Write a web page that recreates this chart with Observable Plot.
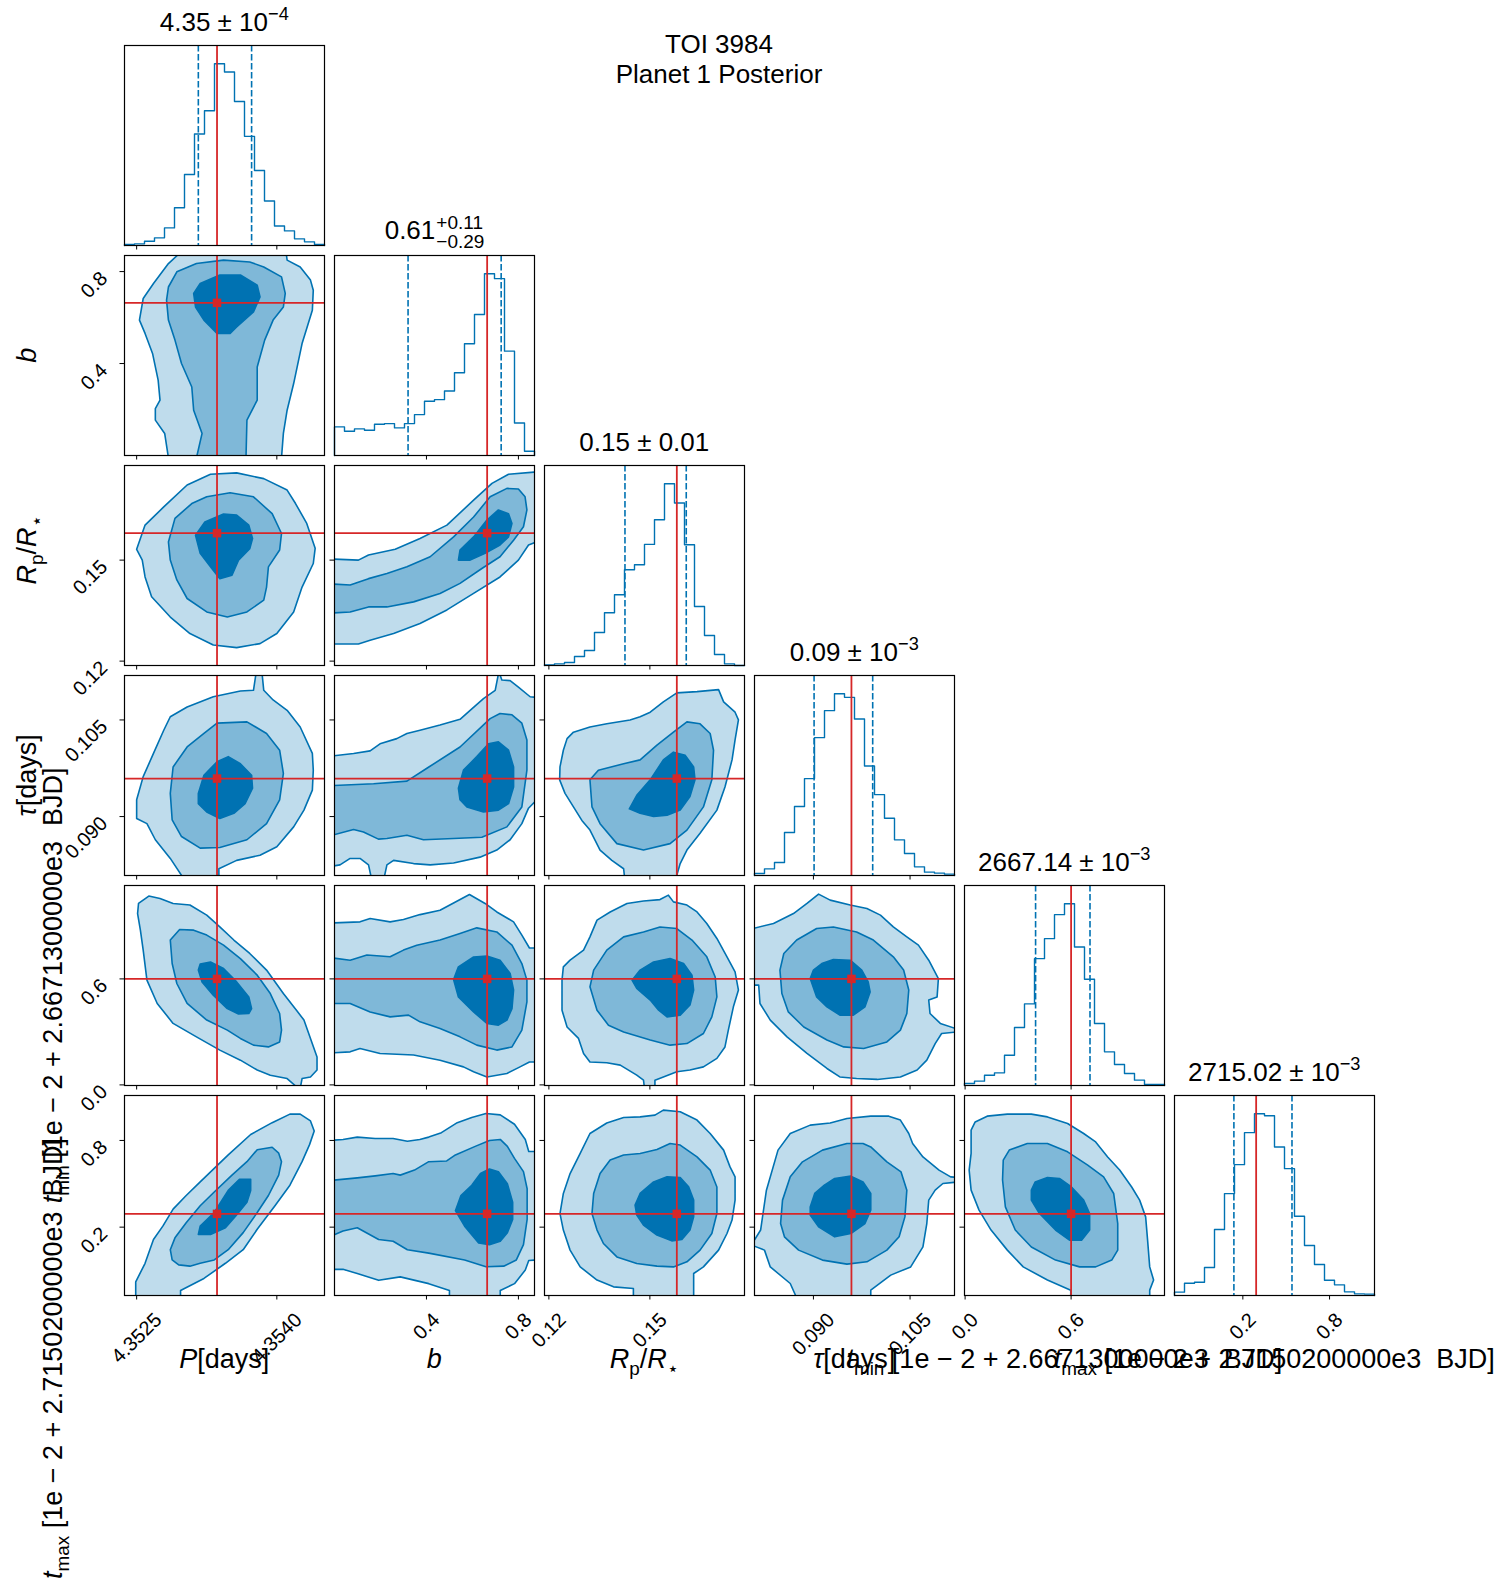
<!DOCTYPE html>
<html><head><meta charset="utf-8">
<script src="https://cdn.jsdelivr.net/npm/d3@7"></script>
<script src="https://cdn.jsdelivr.net/npm/@observablehq/plot@0.6"></script>
<style>
body{margin:0;background:#fff;}
#chart{position:relative;width:1505px;height:1590px;background:#fff;font-family:"Liberation Sans",Arial,sans-serif;}
#chart svg{position:absolute;}
text{white-space:pre;}
</style></head><body><div id="chart"></div>
<script>
// ---------------- data ----------------
const paramKeys = ["P","b","Rp","tau","tmin","tmax"];
const domains = [[4.35237,4.35451],[0,0.87],[0.1187,0.1781],[0.08085,0.1119],[-0.0034,1.1287],[-0.273,1.111]];
const tickValues = [[4.3525,4.3540],[0.4,0.8],[0.12,0.15],[0.090,0.105],[0.0,0.6],[0.2,0.8]];
const tickLabels = [["4.3525","4.3540"],["0.4","0.8"],["0.12","0.15"],["0.090","0.105"],["0.0","0.6"],["0.2","0.8"]];

const histP    = [3,5,13,23,53,114,214,336,406,548,523,434,329,226,134,59,44,20,11,3];
const histB    = [86,73,80,76,94,96,83,96,123,163,168,194,249,336,424,547,532,314,98,13];
const histRp   = [2,5,9,27,45,99,158,212,287,302,363,437,545,487,362,177,90,33,5,0];
const histTau  = [6,20,39,129,207,291,414,495,546,535,470,329,243,172,107,66,26,10,7,4];
const histTmin = [6,13,31,38,91,174,245,381,441,513,546,416,319,186,101,63,36,16,3,3];
const histTmax = [10,37,40,84,198,306,393,489,546,540,446,381,238,150,93,46,32,11,5,4];
const hists = [histP,histB,histRp,histTau,histTmin,histTmax];

const quantiles = [[4.35316,4.35373],[0.320,0.725],[0.1426,0.1608],[0.0901,0.0992],[0.399,0.707],[0.138,0.540]];
const truths = [4.35336,0.664,0.1580,0.0959,0.600,0.292];

const titleMain = ["4.35 ± 10","0.61","0.15 ± 0.01","0.09 ± 10","2667.14 ± 10","2715.02 ± 10"];
const titleSup  = ["−4","+0.11","","−3","−3","−3"];
const titleSub  = ["","−0.29","","","",""];
const figTitle = ["TOI 3984","Planet 1 Posterior"];
const axisLabels = [
  [{t:"P",it:1},{t:"[days]"}],
  [{t:"b",it:1}],
  [{t:"R",it:1},{t:"p",sub:1},{t:"/"},{t:"R",it:1},{t:"⋆",sub:1}],
  [{t:"τ",it:1},{t:"[days]"}],
  [{t:"t",it:1},{t:"min",sub:1},{t:" [1e − 2 + 2.6671300000e3  BJD]"}],
  [{t:"t",it:1},{t:"max",sub:1},{t:" [1e − 2 + 2.7150200000e3  BJD]"}]
];

// contour polygons (outer = lightest level, mid, inner = darkest)
const P_b_outer = {x:[4.35296,4.35284,4.35268,4.35257,4.35253,4.35259,4.35267,4.35273,4.35275,4.35270,4.35270,4.35280,4.35284,4.35405,4.35407,4.35411,4.35418,4.35427,4.35438,4.35439,4.35436,4.35425,4.35411,4.35410],
  y:[0.88,0.835,0.748,0.683,0.589,0.531,0.444,0.328,0.241,0.204,0.154,0.096,-0.01,-0.01,0.096,0.197,0.313,0.487,0.632,0.719,0.763,0.820,0.850,0.88]};
const P_b_mid = {x:[4.35284,4.35293,4.35314,4.35343,4.35371,4.35386,4.35405,4.35409,4.35407,4.35396,4.35387,4.35379,4.35379,4.35368,4.35367,4.35314,4.35320,4.35311,4.35309,4.35298,4.35291,4.35284,4.35282],
  y:[0.733,0.799,0.835,0.850,0.842,0.820,0.777,0.705,0.646,0.589,0.502,0.385,0.241,0.154,-0.01,-0.01,0.096,0.197,0.298,0.400,0.502,0.589,0.676]};
const P_b_inner = {x:[4.35311,4.35318,4.35339,4.35361,4.35379,4.35382,4.35375,4.35357,4.35350,4.35336,4.35322,4.35313],
  y:[0.705,0.748,0.785,0.785,0.741,0.690,0.625,0.559,0.531,0.531,0.589,0.646]};

const P_Rp_outer = {x:[4.35250,4.35259,4.35279,4.35304,4.35329,4.35357,4.35386,4.35411,4.35420,4.35432,4.35441,4.35439,4.35427,4.35418,4.35400,4.35382,4.35357,4.35332,4.35307,4.35286,4.35266,4.35259,4.35256],
  y:[0.1532,0.1604,0.1658,0.1723,0.1755,0.1759,0.1742,0.1708,0.1668,0.1609,0.1535,0.1490,0.1420,0.1346,0.1282,0.1252,0.1240,0.1248,0.1282,0.1331,0.1391,0.1450,0.1500]};
const P_Rp_mid = {x:[4.35284,4.35291,4.35309,4.35325,4.35350,4.35375,4.35395,4.35405,4.35403,4.35391,4.35389,4.35386,4.35368,4.35347,4.35325,4.35304,4.35293,4.35286],
  y:[0.1554,0.1624,0.1668,0.1688,0.1700,0.1688,0.1638,0.1579,0.1530,0.1480,0.1420,0.1381,0.1346,0.1331,0.1346,0.1386,0.1441,0.1500]};
const P_Rp_inner = {x:[4.35313,4.35323,4.35343,4.35357,4.35370,4.35374,4.35371,4.35359,4.35352,4.35339,4.35329,4.35318],
  y:[0.1574,0.1613,0.1637,0.1634,0.1604,0.1564,0.1534,0.1500,0.1455,0.1445,0.1480,0.1520]};

const b_Rp_outer = {x:[-0.01,0.104,0.148,0.264,0.372,0.489,0.605,0.685,0.757,0.88,0.88,0.844,0.800,0.720,0.605,0.489,0.372,0.257,0.155,0.104,-0.01],
  y:[0.1503,0.1500,0.1515,0.1532,0.1564,0.1604,0.1678,0.1728,0.1755,0.1762,0.1554,0.1545,0.1500,0.1450,0.1401,0.1352,0.1312,0.1282,0.1262,0.1251,0.1251]};
const b_Rp_mid = {x:[-0.01,0.068,0.148,0.228,0.315,0.416,0.518,0.605,0.677,0.750,0.800,0.829,0.837,0.822,0.779,0.720,0.641,0.546,0.459,0.344,0.228,0.148,0.068,-0.01],
  y:[0.1429,0.1426,0.1445,0.1460,0.1480,0.1510,0.1569,0.1628,0.1688,0.1713,0.1711,0.1688,0.1649,0.1599,0.1559,0.1510,0.1475,0.1431,0.1401,0.1376,0.1361,0.1361,0.1346,0.1343]};
const b_Rp_inner = {x:[0.539,0.546,0.605,0.663,0.713,0.757,0.772,0.757,0.720,0.655,0.590],
  y:[0.1500,0.1530,0.1569,0.1619,0.1649,0.1638,0.1609,0.1569,0.1545,0.1520,0.1500]};

const P_tau_outer = {x:[4.35302,4.35286,4.35270,4.35261,4.35250,4.35250,4.35257,4.35268,4.35279,4.35286,4.35304,4.35332,4.35361,4.35375,4.35378,4.35384,4.35386,4.35396,4.35411,4.35425,4.35438,4.35439,4.35438,4.35429,4.35418,4.35400,4.35382,4.35357,4.35338,4.35338],
  y:[0.0800,0.0835,0.0864,0.0889,0.0897,0.0926,0.0962,0.0998,0.1034,0.1055,0.1070,0.1086,0.1095,0.1096,0.1125,0.1125,0.1096,0.1081,0.1065,0.1039,0.0998,0.0972,0.0941,0.0910,0.0884,0.0853,0.0840,0.0832,0.0819,0.0800]};
const P_tau_mid = {x:[4.35286,4.35289,4.35304,4.35322,4.35336,4.35368,4.35389,4.35403,4.35407,4.35403,4.35389,4.35368,4.35339,4.35318,4.35298,4.35288],
  y:[0.0936,0.0977,0.1008,0.1029,0.1045,0.1047,0.1029,0.1003,0.0967,0.0926,0.0889,0.0864,0.0852,0.0851,0.0869,0.0895]};
const P_tau_inner = {x:[4.35316,4.35322,4.35336,4.35348,4.35361,4.35373,4.35374,4.35366,4.35354,4.35339,4.35325,4.35316],
  y:[0.0936,0.0964,0.0985,0.0993,0.0982,0.0964,0.0944,0.0920,0.0905,0.0897,0.0907,0.0920]};

const b_tau_outer = {x:[-0.01,0.083,0.155,0.198,0.271,0.315,0.372,0.459,0.546,0.590,0.648,0.699,0.715,0.728,0.764,0.800,0.851,0.88,0.88,0.844,0.815,0.764,0.706,0.633,0.518,0.416,0.344,0.257,0.228,0.213,0.163,0.148,0.111,0.068,0.024,-0.01],
  y:[0.0994,0.0998,0.1002,0.1013,0.1021,0.1029,0.1034,0.1042,0.1051,0.1065,0.1083,0.1096,0.1125,0.1112,0.1111,0.1101,0.1086,0.1085,0.0926,0.0913,0.0889,0.0864,0.0848,0.0837,0.0828,0.0825,0.0827,0.0832,0.0825,0.0800,0.0800,0.0825,0.0835,0.0835,0.0825,0.0823]};
const b_tau_mid = {x:[-0.01,0.170,0.315,0.402,0.546,0.677,0.720,0.772,0.815,0.837,0.837,0.815,0.750,0.641,0.518,0.387,0.315,0.228,0.191,0.126,0.083,-0.01],
  y:[0.0948,0.0951,0.0955,0.0975,0.1008,0.1052,0.1060,0.1058,0.1045,0.1019,0.0972,0.0915,0.0884,0.0868,0.0866,0.0864,0.0871,0.0866,0.0865,0.0876,0.0880,0.0871]};
const b_tau_inner = {x:[0.539,0.561,0.619,0.670,0.713,0.757,0.779,0.779,0.757,0.713,0.648,0.576,0.546],
  y:[0.0944,0.0972,0.0993,0.1013,0.1016,0.1003,0.0977,0.0946,0.0920,0.0910,0.0907,0.0915,0.0926]};

const Rp_tau_outer = {x:[0.1254,0.1273,0.1322,0.1372,0.1441,0.1471,0.1501,0.1540,0.1580,0.1640,0.1704,0.1719,0.1753,0.1763,0.1753,0.1744,0.1723,0.1699,0.1649,0.1610,0.1590,0.1575,0.1426,0.1422,0.1387,0.1352,0.1322,0.1298,0.1273,0.1248,0.1232,0.1233,0.1243],
  y:[0.1021,0.1031,0.1039,0.1044,0.1050,0.1055,0.1062,0.1078,0.1092,0.1094,0.1097,0.1078,0.1062,0.1050,0.1019,0.0988,0.0946,0.0910,0.0874,0.0848,0.0827,0.0800,0.0800,0.0819,0.0832,0.0848,0.0879,0.0894,0.0915,0.0936,0.0957,0.0977,0.1003]};
const Rp_tau_mid = {x:[0.1322,0.1347,0.1422,0.1471,0.1521,0.1570,0.1610,0.1649,0.1679,0.1689,0.1684,0.1659,0.1610,0.1560,0.1481,0.1402,0.1352,0.1328],
  y:[0.0957,0.0972,0.0982,0.0988,0.1011,0.1031,0.1047,0.1044,0.1029,0.1003,0.0957,0.0915,0.0879,0.0858,0.0848,0.0858,0.0889,0.0915]};
const Rp_tau_inner = {x:[0.1439,0.1461,0.1501,0.1540,0.1570,0.1605,0.1630,0.1634,0.1619,0.1590,0.1551,0.1511,0.1471],
  y:[0.0912,0.0933,0.0957,0.0988,0.1000,0.0995,0.0977,0.0957,0.0931,0.0910,0.0902,0.0900,0.0905]};

const P_tmin_outer = {x:[4.35252,4.35263,4.35275,4.35289,4.35307,4.35325,4.35339,4.35354,4.35371,4.35389,4.35407,4.35421,4.35429,4.35443,4.35443,4.35436,4.35427,4.35425,4.35423,4.35411,4.35393,4.35379,4.35361,4.35339,4.35314,4.35289,4.35272,4.35261,4.35257,4.35254,4.35251],
  y:[1.027,1.069,1.055,1.027,1.018,0.961,0.894,0.820,0.744,0.650,0.517,0.423,0.367,0.158,0.084,0.045,0.036,-0.02,-0.02,0.036,0.055,0.084,0.140,0.197,0.272,0.348,0.461,0.593,0.763,0.876,0.970]};
const P_tmin_mid = {x:[4.35286,4.35296,4.35311,4.35325,4.35343,4.35361,4.35379,4.35393,4.35403,4.35405,4.35403,4.35391,4.35375,4.35361,4.35347,4.35325,4.35304,4.35293,4.35288],
  y:[0.820,0.880,0.876,0.848,0.791,0.715,0.621,0.517,0.404,0.310,0.243,0.215,0.225,0.263,0.310,0.367,0.461,0.574,0.687]};
const P_tmin_inner = {x:[4.35316,4.35318,4.35329,4.35343,4.35357,4.35370,4.35373,4.35370,4.35359,4.35347,4.35332,4.35320],
  y:[0.650,0.684,0.696,0.659,0.583,0.498,0.432,0.404,0.401,0.432,0.508,0.583]};

const b_tmin_outer = {x:[-0.01,0.111,0.155,0.242,0.300,0.372,0.459,0.518,0.587,0.655,0.706,0.779,0.815,0.848,0.88,0.88,0.848,0.807,0.750,0.663,0.605,0.561,0.459,0.344,0.198,0.111,0.068,-0.01],
  y:[0.917,0.923,0.942,0.923,0.936,0.964,0.989,1.030,1.078,1.027,0.979,0.923,0.848,0.775,0.775,0.130,0.130,0.102,0.065,0.045,0.074,0.102,0.140,0.169,0.178,0.206,0.187,0.181]};
const b_tmin_mid = {x:[-0.01,0.068,0.141,0.242,0.300,0.358,0.459,0.546,0.619,0.706,0.772,0.815,0.837,0.837,0.815,0.772,0.706,0.619,0.546,0.459,0.372,0.322,0.242,0.155,0.068,-0.01],
  y:[0.719,0.706,0.735,0.725,0.763,0.791,0.820,0.857,0.889,0.866,0.791,0.687,0.593,0.470,0.310,0.215,0.197,0.225,0.272,0.319,0.357,0.395,0.385,0.413,0.461,0.461]};
const b_tmin_inner = {x:[0.518,0.539,0.605,0.663,0.720,0.764,0.779,0.772,0.750,0.713,0.663,0.605,0.539],
  y:[0.597,0.668,0.724,0.729,0.706,0.631,0.537,0.432,0.367,0.338,0.348,0.413,0.498]};

const Rp_tmin_outer = {x:[0.1243,0.1263,0.1303,0.1322,0.1343,0.1382,0.1432,0.1481,0.1530,0.1555,0.1570,0.1610,0.1640,0.1669,0.1699,0.1729,0.1753,0.1763,0.1748,0.1733,0.1723,0.1699,0.1659,0.1619,0.1580,0.1540,0.1515,0.1515,0.1484,0.1481,0.1461,0.1412,0.1372,0.1322,0.1303,0.1288,0.1254,0.1239,0.1239],
  y:[0.668,0.706,0.763,0.838,0.933,0.979,1.027,1.041,1.049,1.074,1.036,1.018,0.979,0.914,0.829,0.725,0.640,0.537,0.442,0.310,0.215,0.150,0.102,0.084,0.074,0.045,0.027,-0.02,-0.02,0.027,0.055,0.112,0.125,0.130,0.178,0.263,0.328,0.423,0.593]};
const Rp_tmin_mid = {x:[0.1322,0.1333,0.1372,0.1422,0.1481,0.1530,0.1580,0.1625,0.1669,0.1694,0.1699,0.1684,0.1659,0.1610,0.1560,0.1501,0.1422,0.1377,0.1343],
  y:[0.555,0.650,0.763,0.838,0.866,0.894,0.885,0.820,0.725,0.611,0.498,0.385,0.291,0.234,0.225,0.254,0.300,0.338,0.423]};
const Rp_tmin_inner = {x:[0.1447,0.1471,0.1511,0.1560,0.1600,0.1625,0.1630,0.1619,0.1590,0.1551,0.1526,0.1501,0.1461],
  y:[0.593,0.650,0.696,0.715,0.687,0.621,0.537,0.452,0.395,0.385,0.423,0.480,0.546]};

const tau_tmin_outer = {x:[0.0800,0.0838,0.0869,0.0890,0.0908,0.0926,0.0957,0.0983,0.1004,0.1024,0.1045,0.1063,0.1079,0.1094,0.1092,0.1079,0.1081,0.1097,0.1125,0.1125,0.1099,0.1089,0.1076,0.1061,0.1035,0.0999,0.0967,0.0941,0.0921,0.0890,0.0859,0.0833,0.0817,0.0815,0.0800],
  y:[0.880,0.914,0.970,1.027,1.080,1.046,1.018,0.998,0.961,0.894,0.838,0.791,0.706,0.602,0.498,0.480,0.404,0.348,0.314,0.300,0.291,0.234,0.140,0.084,0.045,0.031,0.036,0.045,0.093,0.178,0.272,0.367,0.461,0.565,0.565]};
const tau_tmin_mid = {x:[0.0848,0.0854,0.0874,0.0905,0.0931,0.0967,0.0993,0.1024,0.1040,0.1048,0.1045,0.1035,0.1014,0.0978,0.0947,0.0921,0.0885,0.0861,0.0851],
  y:[0.650,0.744,0.820,0.885,0.894,0.866,0.820,0.725,0.650,0.537,0.404,0.310,0.243,0.206,0.215,0.254,0.328,0.413,0.517]};
const tau_tmin_inner = {x:[0.0895,0.0900,0.0913,0.0931,0.0957,0.0975,0.0985,0.0988,0.0980,0.0962,0.0941,0.0921,0.0905],
  y:[0.602,0.650,0.687,0.710,0.706,0.650,0.583,0.526,0.442,0.395,0.395,0.442,0.498]};

const P_tmax_outer = {x:[4.35249,4.35249,4.35259,4.35268,4.35278,4.35289,4.35303,4.35318,4.35333,4.35348,4.35372,4.35395,4.35414,4.35425,4.35436,4.35440,4.35435,4.35427,4.35414,4.35398,4.35379,4.35364,4.35345,4.35322,4.35297,4.35297],
  y:[-0.29,-0.179,-0.050,0.115,0.207,0.325,0.419,0.513,0.607,0.700,0.841,0.923,0.982,0.982,0.935,0.865,0.771,0.653,0.490,0.348,0.185,0.044,-0.050,-0.155,-0.238,-0.29]};
const P_tmax_mid = {x:[4.35288,4.35286,4.35291,4.35303,4.35318,4.35333,4.35352,4.35368,4.35379,4.35395,4.35402,4.35405,4.35402,4.35391,4.35379,4.35364,4.35348,4.35333,4.35318,4.35307,4.35295],
  y:[-0.027,0.044,0.126,0.231,0.348,0.443,0.560,0.653,0.736,0.753,0.712,0.653,0.560,0.419,0.301,0.162,0.044,-0.027,-0.050,-0.070,-0.061]};
const P_tmax_inner = {x:[4.35316,4.35318,4.35333,4.35348,4.35360,4.35372,4.35372,4.35368,4.35356,4.35345,4.35329],
  y:[0.149,0.207,0.301,0.454,0.531,0.531,0.454,0.372,0.278,0.196,0.149]};

const b_tmax_outer = {x:[-0.01,0.037,0.099,0.177,0.255,0.317,0.371,0.410,0.465,0.534,0.597,0.659,0.721,0.783,0.830,0.845,0.88,0.88,0.845,0.830,0.783,0.721,0.721,0.500,0.500,0.410,0.286,0.192,0.099,0.037,-0.01],
  y:[0.801,0.807,0.823,0.813,0.813,0.794,0.807,0.823,0.854,0.923,0.959,0.986,0.977,0.912,0.807,0.723,0.723,-0.027,-0.031,-0.097,-0.191,-0.238,-0.29,-0.29,-0.238,-0.191,-0.144,-0.168,-0.121,-0.092,-0.092]};
const b_tmax_mid = {x:[-0.01,0.099,0.177,0.255,0.286,0.348,0.410,0.488,0.526,0.612,0.674,0.721,0.752,0.783,0.822,0.838,0.838,0.822,0.791,0.736,0.659,0.566,0.410,0.317,0.255,0.192,0.099,0.037,-0.01],
  y:[0.524,0.541,0.555,0.571,0.560,0.595,0.653,0.658,0.700,0.759,0.800,0.807,0.759,0.676,0.584,0.466,0.254,0.079,-0.027,-0.070,-0.074,-0.027,0.020,0.044,0.102,0.115,0.196,0.173,0.142]};
const b_tmax_inner = {x:[0.526,0.550,0.597,0.635,0.674,0.713,0.752,0.775,0.775,0.752,0.721,0.674,0.627,0.566],
  y:[0.314,0.419,0.490,0.571,0.602,0.584,0.501,0.372,0.254,0.162,0.102,0.079,0.091,0.207]};

const Rp_tmax_outer = {x:[0.1233,0.1243,0.1263,0.1293,0.1322,0.1372,0.1422,0.1471,0.1515,0.1540,0.1590,0.1640,0.1679,0.1719,0.1738,0.1753,0.1753,0.1744,0.1729,0.1704,0.1659,0.1630,0.1630,0.1451,0.1451,0.1392,0.1343,0.1293,0.1263,0.1243],
  y:[0.294,0.433,0.571,0.710,0.848,0.921,0.959,0.963,0.975,1.010,0.998,0.941,0.848,0.733,0.617,0.548,0.387,0.249,0.156,0.041,-0.075,-0.121,-0.29,-0.29,-0.225,-0.213,-0.166,-0.075,0.041,0.180]};
const Rp_tmax_mid = {x:[0.1328,0.1333,0.1352,0.1382,0.1422,0.1471,0.1521,0.1560,0.1590,0.1640,0.1679,0.1699,0.1699,0.1684,0.1649,0.1610,0.1570,0.1521,0.1461,0.1402,0.1362,0.1343],
  y:[0.294,0.433,0.571,0.664,0.699,0.710,0.737,0.779,0.768,0.686,0.595,0.478,0.294,0.156,0.041,-0.040,-0.075,-0.070,-0.052,-0.006,0.087,0.180]};
const Rp_tmax_inner = {x:[0.1456,0.1471,0.1511,0.1551,0.1590,0.1615,0.1630,0.1630,0.1619,0.1595,0.1565,0.1521,0.1481,0.1461],
  y:[0.353,0.433,0.513,0.548,0.544,0.479,0.387,0.271,0.180,0.115,0.105,0.145,0.214,0.283]};

const tau_tmax_outer = {x:[0.0805,0.0818,0.0827,0.0845,0.0864,0.0895,0.0926,0.0952,0.0989,0.1017,0.1035,0.1048,0.1054,0.1070,0.1095,0.1113,0.1125,0.1125,0.1101,0.1089,0.1079,0.1076,0.1070,0.1051,0.1020,0.0989,0.0989,0.0874,0.0864,0.0833,0.0824,0.0800],
  y:[0.087,0.180,0.456,0.733,0.848,0.906,0.921,0.952,0.968,0.968,0.941,0.848,0.779,0.686,0.595,0.548,0.544,0.513,0.502,0.456,0.387,0.225,0.063,-0.075,-0.132,-0.236,-0.29,-0.29,-0.190,-0.075,0.041,0.083]};
const tau_tmax_mid = {x:[0.0849,0.0852,0.0864,0.0883,0.0914,0.0952,0.0977,0.0989,0.1014,0.1036,0.1045,0.1042,0.1033,0.1014,0.0983,0.0952,0.0914,0.0877,0.0855],
  y:[0.225,0.387,0.548,0.652,0.733,0.779,0.779,0.755,0.652,0.582,0.456,0.271,0.133,0.041,-0.040,-0.056,-0.028,0.041,0.133]};
const tau_tmax_inner = {x:[0.0895,0.0902,0.0917,0.0933,0.0958,0.0977,0.0989,0.0989,0.0980,0.0958,0.0933,0.0908,0.0895],
  y:[0.340,0.433,0.491,0.537,0.553,0.513,0.433,0.318,0.225,0.156,0.133,0.202,0.283]};

const tmin_tmax_outer = {x:[0.034,0.057,0.125,0.239,0.375,0.466,0.580,0.671,0.739,0.807,0.875,0.943,0.988,1.022,1.033,1.045,1.067,1.045,1.045,0.598,0.598,0.466,0.329,0.239,0.147,0.079,0.034,0.023,0.034],
  y:[0.872,0.928,0.968,0.982,0.982,0.963,0.917,0.848,0.790,0.686,0.595,0.478,0.387,0.271,0.110,-0.075,-0.166,-0.236,-0.29,-0.29,-0.236,-0.166,-0.075,0.041,0.180,0.318,0.456,0.595,0.710]};
const tmin_tmax_mid = {x:[0.216,0.250,0.352,0.466,0.580,0.694,0.784,0.841,0.864,0.864,0.830,0.739,0.648,0.512,0.375,0.284,0.228,0.212],
  y:[0.664,0.733,0.779,0.779,0.721,0.629,0.548,0.433,0.225,0.041,-0.028,-0.075,-0.075,-0.028,0.063,0.180,0.340,0.526]};
const tmin_tmax_inner = {x:[0.375,0.397,0.466,0.534,0.602,0.671,0.705,0.705,0.659,0.591,0.512,0.421,0.375],
  y:[0.456,0.513,0.544,0.537,0.478,0.387,0.294,0.180,0.110,0.110,0.180,0.294,0.387]};

const contours = {
  "1-0":[P_b_outer,P_b_mid,P_b_inner],
  "2-0":[P_Rp_outer,P_Rp_mid,P_Rp_inner], "2-1":[b_Rp_outer,b_Rp_mid,b_Rp_inner],
  "3-0":[P_tau_outer,P_tau_mid,P_tau_inner], "3-1":[b_tau_outer,b_tau_mid,b_tau_inner], "3-2":[Rp_tau_outer,Rp_tau_mid,Rp_tau_inner],
  "4-0":[P_tmin_outer,P_tmin_mid,P_tmin_inner], "4-1":[b_tmin_outer,b_tmin_mid,b_tmin_inner], "4-2":[Rp_tmin_outer,Rp_tmin_mid,Rp_tmin_inner], "4-3":[tau_tmin_outer,tau_tmin_mid,tau_tmin_inner],
  "5-0":[P_tmax_outer,P_tmax_mid,P_tmax_inner], "5-1":[b_tmax_outer,b_tmax_mid,b_tmax_inner], "5-2":[Rp_tmax_outer,Rp_tmax_mid,Rp_tmax_inner], "5-3":[tau_tmax_outer,tau_tmax_mid,tau_tmax_inner], "5-4":[tmin_tmax_outer,tmin_tmax_mid,tmin_tmax_inner]
};

// ---------------- layout & style ----------------
const PANEL = 200, STEP = 210, LEFT0 = 124.3, TOP0 = 45.3;
const BLUE = "#0072b2", MIDC = "#7fb8d8", LIGHT = "#bfdcec", RED = "#d62728";
const FONT = "'Liberation Sans', Arial, sans-serif";
const TICK_FS = 20;
const chart = document.getElementById("chart");
const ctx = document.createElement("canvas").getContext("2d");
ctx.font = `${TICK_FS}px 'Liberation Sans'`;

for (let r = 0; r < 6; r++) {
  for (let c = 0; c <= r; c++) {
    const marks = [];
    let yDomain;
    if (r === c) {
      const counts = hists[c];
      const [lo, hi] = domains[c];
      const edges = d3.range(21).map(k => lo + k * (hi - lo) / 20);
      const pts = [[edges[0], 0], ...counts.map((v, k) => [edges[k], v]), [edges[20], counts[19]], [edges[20], 0]];
      yDomain = [0, 1.1 * d3.max(counts)];
      marks.push(Plot.line(pts, {x: d => d[0], y: d => d[1], curve: "step-after", stroke: BLUE, strokeWidth: 1.4}));
      marks.push(Plot.ruleX(quantiles[c], {stroke: BLUE, strokeWidth: 1.6, strokeDasharray: "6.5,2.5"}));
      marks.push(Plot.ruleX([truths[c]], {stroke: RED, strokeWidth: 1.8}));
    } else {
      yDomain = domains[r];
      const levels = contours[r + "-" + c];
      const fills = [LIGHT, MIDC, BLUE];
      levels.forEach((poly, k) => {
        marks.push(Plot.line(d3.zip(poly.x, poly.y), {x: d => d[0], y: d => d[1], curve: "linear-closed",
          fill: fills[k], stroke: BLUE, strokeWidth: 1.6, clip: true}));
      });
      marks.push(Plot.ruleX([truths[c]], {stroke: RED, strokeWidth: 1.8}));
      marks.push(Plot.ruleY([truths[r]], {stroke: RED, strokeWidth: 1.8}));
      marks.push(Plot.dot([[truths[c], truths[r]]], {x: d => d[0], y: d => d[1], symbol: "square", r: 4.8, fill: RED}));
      marks.push(Plot.axisY(tickValues[r], {anchor: "left", tickSize: 4.5, tickFormat: () => "", label: null}));
      if (c === 0) {
        tickValues[r].forEach((v, k) => {
          marks.push(Plot.text([v], {y: d => d, frameAnchor: "left", dx: -16, dy: 8, text: () => tickLabels[r][k],
            rotate: -45, textAnchor: "end", lineAnchor: "bottom", fontSize: TICK_FS, fill: "black"}));
        });
      }
    }
    marks.push(Plot.axisX(tickValues[c], {anchor: "bottom", tickSize: 4.5, tickFormat: () => "", label: null}));
    if (r === 5) {
      tickValues[c].forEach((v, k) => {
        const L = ctx.measureText(tickLabels[c][k]).width;
        const off = 16 + (L + 0.72 * TICK_FS) / (2 * Math.SQRT2);
        marks.push(Plot.text([v], {x: d => d, frameAnchor: "bottom", dy: off, text: () => tickLabels[c][k],
          rotate: -45, textAnchor: "middle", lineAnchor: "middle", fontSize: TICK_FS, fill: "black"}));
      });
    }
    marks.push(Plot.frame({stroke: "black", strokeWidth: 1.2}));
    const svg = Plot.plot({
      width: PANEL, height: PANEL, margin: 0,
      x: {domain: domains[c], axis: null},
      y: {domain: yDomain, axis: null},
      style: {overflow: "visible", background: "transparent", fontFamily: FONT},
      marks
    });
    svg.style.left = (LEFT0 + STEP * c) + "px";
    svg.style.top = (TOP0 + STEP * r) + "px";
    chart.appendChild(svg);
  }
}

// ---------------- titles & axis labels ----------------
const over = d3.select(chart).append("svg")
  .attr("width", 1505).attr("height", 1590)
  .style("left", "0px").style("top", "0px").style("pointer-events", "none").style("overflow", "visible");

function rich(x, y, parts, {size = 27, anchor = "middle", rotate = 0} = {}) {
  const t = over.append("text").attr("x", x).attr("y", y).attr("text-anchor", anchor)
    .attr("font-size", size).attr("font-family", FONT).attr("fill", "black");
  if (rotate) t.attr("transform", `rotate(${rotate},${x},${y})`);
  let shift = 0;
  for (const p of parts) {
    const s = p.sub ? 0.25 * size : p.sup ? -0.42 * size : 0;
    const ts = t.append("tspan").text(p.t).attr("dy", s - shift);
    if (p.sub || p.sup) ts.attr("font-size", 0.7 * size);
    if (p.it) ts.attr("font-style", "italic");
    shift = s;
  }
  return t;
}

// figure title
rich(719, 53, [{t: figTitle[0]}], {size: 26});
rich(719, 83, [{t: figTitle[1]}], {size: 26});

// panel titles
for (let c = 0; c < 6; c++) {
  const cx = LEFT0 + STEP * c + PANEL / 2;
  const top = TOP0 + STEP * c;
  if (titleSub[c]) {
    rich(cx + 1, top - 16, [{t: titleMain[c]}], {size: 26, anchor: "end"});
    rich(cx + 2, top - 26, [{t: titleSup[c]}], {size: 19, anchor: "start"});
    rich(cx + 2, top - 7, [{t: titleSub[c]}], {size: 19, anchor: "start"});
  } else {
    const parts = [{t: titleMain[c]}];
    if (titleSup[c]) parts.push({t: titleSup[c], sup: 1});
    rich(cx, top - 14, parts, {size: 26});
  }
}

// x-axis labels (bottom)
for (let c = 0; c < 6; c++) {
  rich(LEFT0 + STEP * c + PANEL / 2, 1368, axisLabels[c], {size: 27});
}
// y-axis labels (left)
rich(36, 355.3, axisLabels[1], {size: 27, rotate: -90});
rich(36, 550, axisLabels[2], {size: 27, rotate: -90});
rich(36, 775.3, axisLabels[3], {size: 27, rotate: -90});
rich(62, 985.3, axisLabels[4], {size: 27, rotate: -90});
rich(62, 1579, axisLabels[5], {size: 27, rotate: -90, anchor: "start"});
</script>
</body></html>
